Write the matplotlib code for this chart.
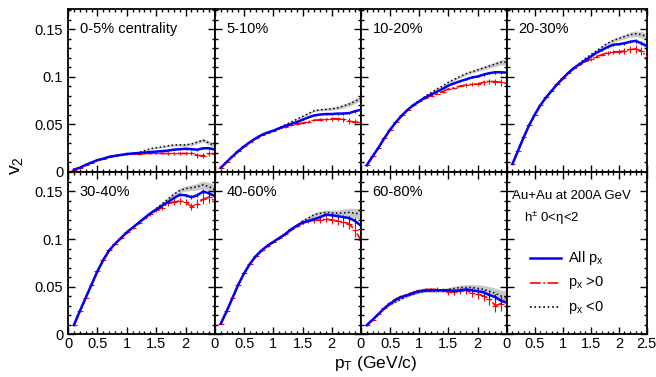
import matplotlib
matplotlib.use("Agg")
import matplotlib.pyplot as plt
import numpy as np
from matplotlib.ticker import MultipleLocator

plt.rcParams['font.family'] = ['Liberation Sans', 'DejaVu Sans']
plt.rcParams['mathtext.fontset'] = 'custom'
plt.rcParams['mathtext.rm'] = 'Liberation Sans'
plt.rcParams['mathtext.it'] = 'Liberation Sans'

# pT bins (GeV/c)
pt = [0.1, 0.2, 0.3, 0.4, 0.5, 0.6, 0.7, 0.8, 0.9, 1.0, 1.1, 1.2, 1.3,
      1.4, 1.5, 1.6, 1.7, 1.8, 1.9, 2.0, 2.1, 2.2, 2.3, 2.4, 2.5]

labels = ["0-5% centrality", "5-10%", "10-20%", "20-30%",
          "30-40%", "40-60%", "60-80%"]

# v2 for all px
v2_all = [
    [0.002, 0.004, 0.007, 0.0095, 0.012, 0.0135, 0.0155, 0.0165, 0.0175, 0.0185, 0.019, 0.0195, 0.020,
     0.0205, 0.021, 0.0215, 0.022, 0.023, 0.0235, 0.024, 0.0235, 0.023, 0.0245, 0.0245, 0.023],
    [0.004, 0.010, 0.016, 0.0215, 0.0265, 0.031, 0.035, 0.0385, 0.041, 0.043, 0.0455, 0.048, 0.050,
     0.052, 0.0545, 0.057, 0.059, 0.060, 0.0605, 0.0605, 0.061, 0.061, 0.0615, 0.0635, 0.065],
    [0.0066, 0.016, 0.025, 0.035, 0.044, 0.052, 0.059, 0.065, 0.070, 0.074, 0.078, 0.081, 0.084,
     0.087, 0.0905, 0.093, 0.095, 0.097, 0.099, 0.100, 0.102, 0.1035, 0.1045, 0.1045, 0.104],
    [0.008, 0.022, 0.036, 0.049, 0.060, 0.070, 0.078, 0.085, 0.092, 0.098, 0.104, 0.109, 0.113,
     0.117, 0.121, 0.125, 0.128, 0.131, 0.1335, 0.134, 0.135, 0.1365, 0.1375, 0.135, 0.132],
    [0.0094, 0.024, 0.038, 0.052, 0.066, 0.078, 0.088, 0.095, 0.101, 0.107, 0.112, 0.117, 0.122,
     0.127, 0.131, 0.135, 0.139, 0.143, 0.1465, 0.146, 0.144, 0.146, 0.150, 0.148, 0.145],
    [0.011, 0.024, 0.038, 0.052, 0.064, 0.074, 0.082, 0.088, 0.093, 0.097, 0.101, 0.105, 0.110,
     0.114, 0.117, 0.119, 0.121, 0.123, 0.1255, 0.125, 0.124, 0.123, 0.122, 0.119, 0.114],
    [0.0094, 0.015, 0.021, 0.027, 0.032, 0.036, 0.039, 0.041, 0.043, 0.045, 0.0455, 0.046, 0.046,
     0.046, 0.046, 0.0455, 0.046, 0.047, 0.046, 0.045, 0.044, 0.041, 0.039, 0.035, 0.033],
]

# v2 for px > 0
v2_pos = [
    [0.002, 0.004, 0.007, 0.0095, 0.012, 0.0135, 0.0155, 0.0165, 0.0175, 0.018, 0.0185, 0.0185, 0.019,
     0.019, 0.019, 0.019, 0.019, 0.019, 0.019, 0.019, 0.0195, 0.017, 0.0165, 0.019, 0.0185],
    [0.004, 0.010, 0.016, 0.0215, 0.0265, 0.031, 0.035, 0.0385, 0.041, 0.043, 0.0455, 0.047, 0.0485,
     0.050, 0.051, 0.0525, 0.054, 0.0545, 0.055, 0.0555, 0.0555, 0.055, 0.053, 0.052, 0.052],
    [0.0066, 0.016, 0.025, 0.035, 0.044, 0.052, 0.059, 0.065, 0.070, 0.074, 0.077, 0.080, 0.082,
     0.084, 0.087, 0.088, 0.090, 0.091, 0.092, 0.092, 0.094, 0.095, 0.0945, 0.094, 0.093],
    [0.008, 0.022, 0.036, 0.049, 0.060, 0.070, 0.078, 0.085, 0.092, 0.098, 0.104, 0.109, 0.113,
     0.116, 0.118, 0.121, 0.123, 0.125, 0.126, 0.126, 0.127, 0.1285, 0.129, 0.127, 0.121],
    [0.0094, 0.024, 0.038, 0.052, 0.066, 0.078, 0.088, 0.095, 0.101, 0.107, 0.112, 0.117, 0.122,
     0.126, 0.130, 0.133, 0.1375, 0.139, 0.140, 0.139, 0.134, 0.137, 0.142, 0.144, 0.140],
    [0.011, 0.024, 0.038, 0.052, 0.064, 0.074, 0.082, 0.088, 0.093, 0.097, 0.101, 0.105, 0.110,
     0.114, 0.118, 0.119, 0.1195, 0.120, 0.121, 0.120, 0.119, 0.118, 0.116, 0.109, 0.099],
    [0.0094, 0.015, 0.021, 0.027, 0.033, 0.037, 0.040, 0.042, 0.044, 0.046, 0.047, 0.047, 0.047,
     0.046, 0.044, 0.044, 0.045, 0.046, 0.043, 0.042, 0.040, 0.037, 0.030, 0.032, 0.038],
]

# v2 for px < 0
v2_neg = [
    [0.002, 0.004, 0.007, 0.0095, 0.012, 0.0135, 0.0155, 0.0165, 0.0175, 0.0185, 0.019, 0.020, 0.022,
     0.024, 0.025, 0.026, 0.027, 0.028, 0.028, 0.028, 0.029, 0.031, 0.033, 0.030, 0.027],
    [0.004, 0.010, 0.016, 0.0215, 0.0265, 0.031, 0.035, 0.0385, 0.041, 0.043, 0.046, 0.049, 0.052,
     0.055, 0.058, 0.061, 0.064, 0.065, 0.0655, 0.066, 0.067, 0.069, 0.071, 0.074, 0.077],
    [0.0066, 0.016, 0.025, 0.035, 0.044, 0.052, 0.059, 0.065, 0.070, 0.074, 0.079, 0.083, 0.087,
     0.090, 0.094, 0.097, 0.100, 0.103, 0.105, 0.107, 0.109, 0.111, 0.113, 0.115, 0.115],
    [0.008, 0.022, 0.036, 0.049, 0.060, 0.070, 0.078, 0.085, 0.092, 0.098, 0.104, 0.109, 0.114,
     0.119, 0.123, 0.127, 0.131, 0.135, 0.138, 0.140, 0.142, 0.144, 0.145, 0.144, 0.142],
    [0.0094, 0.024, 0.038, 0.052, 0.066, 0.078, 0.088, 0.095, 0.101, 0.107, 0.112, 0.117, 0.122,
     0.127, 0.132, 0.137, 0.142, 0.147, 0.151, 0.153, 0.154, 0.155, 0.157, 0.155, 0.152],
    [0.011, 0.024, 0.038, 0.052, 0.064, 0.074, 0.082, 0.088, 0.093, 0.097, 0.101, 0.105, 0.110,
     0.114, 0.119, 0.122, 0.1255, 0.127, 0.128, 0.1275, 0.127, 0.1275, 0.128, 0.127, 0.1265],
    [0.0094, 0.015, 0.021, 0.027, 0.031, 0.034, 0.037, 0.040, 0.042, 0.044, 0.045, 0.045, 0.045,
     0.046, 0.047, 0.048, 0.049, 0.049, 0.049, 0.048, 0.047, 0.045, 0.043, 0.040, 0.039],
]

# statistical errors: base shape per pT bin and a per-centrality factor
err_base = [0.0002, 0.0002, 0.0002, 0.0002, 0.0003, 0.0003, 0.0003, 0.0004, 0.0004, 0.0005,
            0.0005, 0.0006, 0.0007, 0.0008, 0.0009, 0.0010, 0.0011, 0.0013, 0.0015, 0.0017,
            0.0019, 0.0022, 0.0025, 0.0028, 0.0032]
err_scale = [0.8, 0.9, 1.0, 1.2, 1.6, 1.8, 2.2]

fig = plt.figure(figsize=(6.56, 3.77), dpi=100)
gs = fig.add_gridspec(2, 4, left=0.1037, right=0.986, top=0.976, bottom=0.114,
                      wspace=0, hspace=0, width_ratios=[147, 146, 146, 140])

pt_arr = np.array(pt)
for i in range(8):
    r, c = divmod(i, 4)
    ax = fig.add_subplot(gs[r, c])
    ax.set_xlim(0, 2.5)
    ax.set_ylim(0, 0.171)
    ax.xaxis.set_major_locator(MultipleLocator(0.5))
    ax.xaxis.set_minor_locator(MultipleLocator(0.1))
    ax.yaxis.set_major_locator(MultipleLocator(0.05))
    ax.yaxis.set_minor_locator(MultipleLocator(0.01))
    ax.tick_params(which='both', direction='in', top=True, right=True,
                   labelsize=10.5, width=1)
    ax.tick_params(which='major', length=5)
    ax.tick_params(which='minor', length=2.5)
    ax.tick_params(axis='x', pad=2)
    for s in ax.spines.values():
        s.set_linewidth(1.3)
    if c == 0:
        ax.set_yticks([0, 0.05, 0.1, 0.15])
        ax.set_yticklabels(['0', '0.05', '0.1', '0.15'])
    else:
        ax.set_yticklabels([])
    if r == 1:
        if c == 3:
            ax.set_xticks([0, 0.5, 1, 1.5, 2, 2.5])
            ax.set_xticklabels(['0', '0.5', '1', '1.5', '2', '2.5'])
        else:
            ax.set_xticks([0, 0.5, 1, 1.5, 2])
            ax.set_xticklabels(['0', '0.5', '1', '1.5', '2'])
        ax.set_xlim(0, 2.5)
    else:
        ax.set_xticklabels([])

    if i == 7:
        # legend panel
        ax.text(0.04, 0.83, "Au+Au at 200A GeV", transform=ax.transAxes, fontsize=9.5)
        ax.text(0.12, 0.69, r"h$^{\pm}$ 0<$\eta$<2", transform=ax.transAxes, fontsize=9.5)
        ax.plot([0.41, 0.96], [0.080, 0.080], color='blue', lw=1.8)
        ax.plot([0.41, 0.96], [0.054, 0.054], color='red', lw=1.2, ls='-.')
        ax.plot([0.41, 0.96], [0.028, 0.028], color='black', lw=1.2, ls=':')
        ax.text(1.1, 0.080, r"All p$_x$", fontsize=10.5, va='center')
        ax.text(1.1, 0.054, r"p$_x$ >0", fontsize=10.5, va='center')
        ax.text(1.1, 0.028, r"p$_x$ <0", fontsize=10.5, va='center')
        continue

    err = np.array(err_base) * err_scale[i]
    ya = np.array(v2_all[i])
    yp = np.array(v2_pos[i])
    yn = np.array(v2_neg[i])
    ax.fill_between(pt_arr, yn - err, yn + err, color='#c8c8c8', lw=0, zorder=1)
    ax.plot(pt_arr, yn, color='black', lw=1.1, ls=':', zorder=2)
    ax.errorbar(pt_arr, yp, yerr=err * 1.3, xerr=0.05, fmt='none', ecolor='red',
                elinewidth=0.8, zorder=3)
    ax.plot(pt_arr, yp, color='red', lw=1.2, ls='-.', zorder=3)
    ax.errorbar(pt_arr, ya, yerr=err * 0.6, fmt='none', ecolor='blue',
                elinewidth=0.8, zorder=4)
    ax.plot(pt_arr, ya, color='blue', lw=1.8, zorder=5)
    ax.text(0.08, 0.85, labels[i], transform=ax.transAxes, fontsize=10.5)

fig.text(0.025, 0.56, r"v$_2$", rotation=90, fontsize=14, ha='center', va='center')
fig.text(0.572, 0.037, r"p$_T$ (GeV/c)", fontsize=12.5, ha='center', va='center')

fig.savefig("out.png", dpi=100)
